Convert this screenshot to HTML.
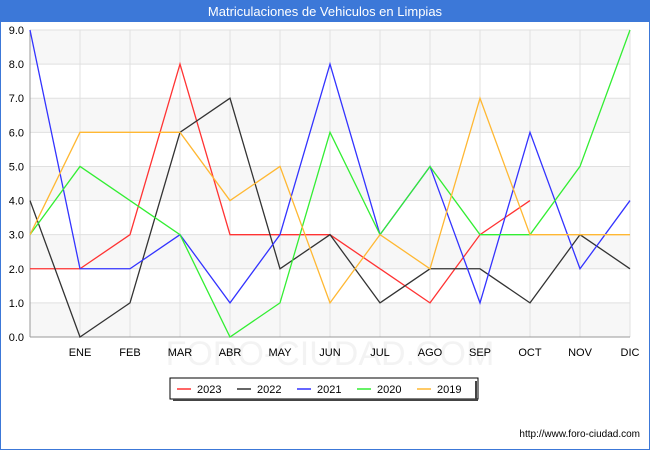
<!DOCTYPE html>
<html><head><meta charset="utf-8"><style>
body{margin:0;background:#fff;font-family:"Liberation Sans",sans-serif}
#wrap{width:650px;height:450px;position:relative;background:#fff}
</style></head><body>
<div id="wrap">
<svg id="svg" width="650" height="450" xmlns="http://www.w3.org/2000/svg">
<rect x="0.5" y="0.5" width="649" height="449" fill="#fff" stroke="#3c78d8"/>
<rect x="0" y="0" width="650" height="22" fill="#3c78d8"/>
<text x="325" y="16" text-anchor="middle" fill="#fff" font-size="13">Matriculaciones de Vehiculos en Limpias</text>
<g id="bands"></g><g id="grid"></g>
<text x="330" y="365" text-anchor="middle" fill="#f3f3f3" font-size="34">FORO-CIUDAD.COM</text>
<g id="ticks"></g>
<g id="series"></g>
<rect x="170" y="378" width="308" height="21" fill="#fff" stroke="#000"/>
<line x1="476" y1="381" x2="476" y2="400" stroke="#444" stroke-width="2"/>
<line x1="173" y1="400" x2="478" y2="400" stroke="#444" stroke-width="2"/>
<g id="legend"></g>
<text x="640" y="437" text-anchor="end" font-size="10" fill="#000">http://www.foro-ciudad.com</text>
</svg>
</div>
<script>
const categories=["","ENE","FEB","MAR","ABR","MAY","JUN","JUL","AGO","SEP","OCT","NOV","DIC"];
const yTicks=[0,1,2,3,4,5,6,7,8,9];
const seriesNames=["2023","2022","2021","2020","2019"];
const seriesColors=["#ff3333","#333333","#3333ff","#33ee33","#ffb833"];
const s2023=[2,2,3,8,3,3,3,2,1,3,4];
const s2022=[4,0,1,6,7,2,3,1,2,2,1,3,2];
const s2021=[9,2,2,3,1,3,8,3,5,1,6,2,4];
const s2020=[3,5,4,3,0,1,6,3,5,3,3,5,9];
const s2019=[3,6,6,6,4,5,1,3,2,7,3,3,3];
const allSeries=[s2023,s2022,s2021,s2020,s2019];
const X0=30,X1=630,Y0=337,Y1=30,YMAX=9;
const xs=i=>X0+i*(X1-X0)/(categories.length-1);
const ys=v=>Y0-v*(Y0-Y1)/YMAX;
const NS="http://www.w3.org/2000/svg";
function mk(t,a,p){const e=document.createElementNS(NS,t);for(const k in a)e.setAttribute(k,a[k]);document.getElementById(p).appendChild(e);return e;}
for(let v=0;v<YMAX;v++){
 const r=mk('rect',{x:X0,y:ys(v+1),width:X1-X0,height:ys(v)-ys(v+1),fill:(YMAX-1-v)%2==0?'#f7f7f7':'#ffffff'},'bands');
 
 
}
yTicks.forEach(v=>{
 const l=mk('line',{x1:X0,x2:X1,y1:ys(v),y2:ys(v),stroke:'#e0e0e0'},'grid');
 
 
 const t=mk('text',{x:X0-6,y:ys(v)+4,'text-anchor':'end','font-size':'11',fill:'#000'},'ticks');
 t.textContent=v.toFixed(1);
 
 
});
categories.forEach((c,i)=>{
 const l=mk('line',{x1:xs(i),x2:xs(i),y1:Y1,y2:Y0,stroke:'#e0e0e0'},'grid');
 
 
 const t=mk('text',{x:xs(i),y:356,'text-anchor':'middle','font-size':'11',fill:'#000'},'ticks');
 t.textContent=c;
 
 
});
mk('line',{x1:X0,x2:X1,y1:Y0,y2:Y0,stroke:'#999'},'grid');
mk('line',{x1:X0,x2:X0,y1:Y1,y2:Y0,stroke:'#999'},'grid');
allSeries.forEach((s,k)=>{
 const p=mk('polyline',{points:s.map((v,i)=>xs(i)+','+ys(v)).join(' '),fill:'none',stroke:seriesColors[k],'stroke-width':'1.3'},'series');
 
 
 const lx=177+k*60;
 const l=mk('line',{x1:lx,x2:lx+14,y1:389,y2:389,stroke:seriesColors[k],'stroke-width':'1.5'},'legend');
 
 
 const t=mk('text',{x:lx+20,y:393,'font-size':'11',fill:'#000'},'legend');
 t.textContent=seriesNames[k];
 
 
});
</script>
</body></html>
